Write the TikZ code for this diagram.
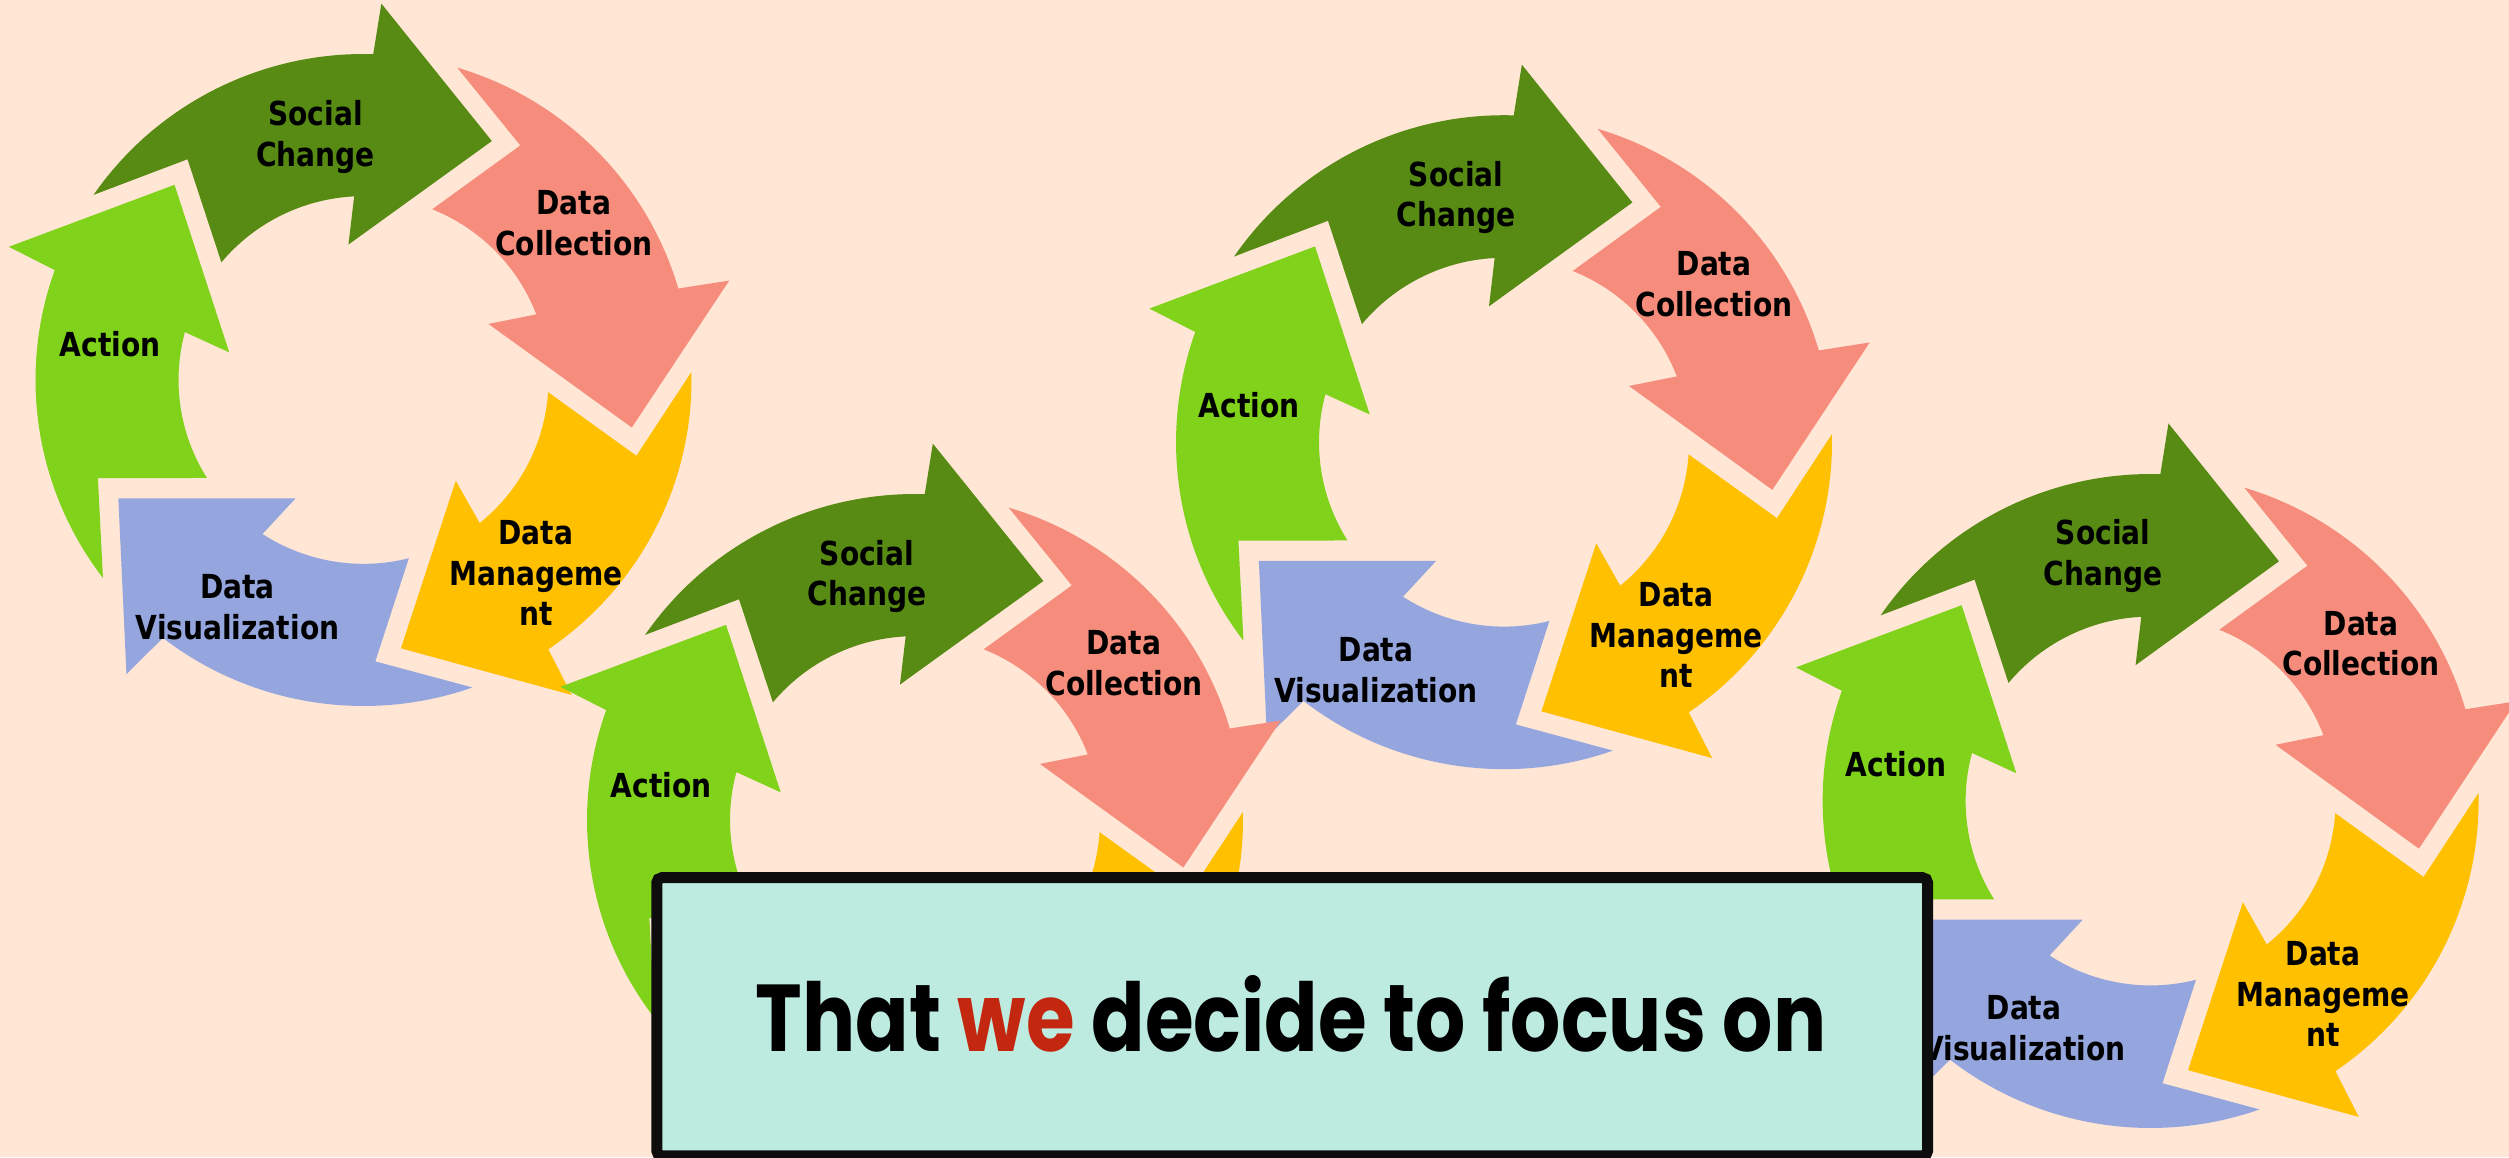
\documentclass[tikz,border=0pt]{standalone}
\usepackage{fontspec}
\usepackage{graphicx}
\newfontfamily\lblfont{DejaVu Sans}[FakeStretch=0.85]
\newfontfamily\bannerfont{Poppins}
\definecolor{bgpeach}{HTML}{FFE6D5}
\definecolor{scgreen}{HTML}{578B13}
\definecolor{dcsalmon}{HTML}{F68D7C}
\definecolor{dmyellow}{HTML}{FFC000}
\definecolor{dvblue}{HTML}{95A6DF}
\definecolor{acgreen}{HTML}{80D31A}
\definecolor{boxfill}{HTML}{BDEBE0}
\definecolor{boxline}{HTML}{0D0D0D}
\definecolor{wered}{HTML}{C3270F}
\tikzset{
  lbl/.style={font=\lblfont\bfseries\fontsize{9.4}{11.5}\selectfont, align=center, inner sep=0pt, text=black},
  bannerbox/.style={draw=boxline, fill=boxfill, line width=0.11cm, rounded corners=0.05cm,
    minimum width=12.7cm, minimum height=2.78cm, inner sep=0pt},
}
% one curved block arrow of a ring: #1 = angle of its tip, #2 = colour
\newcommand\ringarrow[2]{%
  \fill[#2] ({#1+83.5}:1) arc[start angle={#1+83.5}, end angle={#1+26.4}, radius=1]
    -- ({#1+25.4}:1.156) -- ({#1}:0.831) -- ({#1+34.4}:0.418) -- ({#1+31}:0.564)
    arc[start angle={#1+31}, end angle={#1+78.3}, radius=0.564]
    -- ({#1+66.5}:0.864) -- cycle;}
\newcommand\fullcycle{%
  \ringarrow{61.9}{scgreen}
  \ringarrow{-10.1}{dcsalmon}
  \ringarrow{-82.1}{dmyellow}
  \ringarrow{-154.1}{dvblue}
  \ringarrow{133.9}{acgreen}}
\begin{document}
\begin{tikzpicture}[x=0.01cm, y=0.01cm]
\fill[bgpeach] (0,0) rectangle (2509,1157);
\useasboundingbox (0,0) rectangle (2509,1157);
\clip (0,0) rectangle (2509,1157);
% rings
\begin{scope}[shift={(363.5,777)}, xscale=328, yscale=326] \fullcycle \end{scope}
\begin{scope}[shift={(1504,714.8)}, xscale=328, yscale=327] \fullcycle \end{scope}
\begin{scope}[shift={(915,337)}, xscale=328, yscale=326] \fullcycle \end{scope}
\begin{scope}[shift={(2150.6,356)}, xscale=328, yscale=327] \fullcycle \end{scope}
% labels, ring 1
\node[lbl] (sc1) at (315.5,1020) {Social\\Change};
\node[lbl] (dc1) at (574,934) {Data\\Collection};
\node[lbl] (dm1) at (536,584) {Data\\Manageme\\nt};
\node[lbl] (dv1) at (237.5,550) {Data\\Visualization};
\node[lbl] (ac1) at (110,813) {Action};
% labels, ring 2
\node[lbl] (sc2) at (867,580.5) {Social\\Change};
\node[lbl] (dc2) at (1124,493.6) {Data\\Collection};
\node[lbl] (ac2) at (661,372) {Action};
% labels, ring 3
\node[lbl] (sc3) at (1456,959.3) {Social\\Change};
\node[lbl] (dc3) at (1714,872.8) {Data\\Collection};
\node[lbl] (dm3) at (1676,522) {Data\\Manageme\\nt};
\node[lbl] (dv3) at (1376,487) {Data\\Visualization};
\node[lbl] (ac3) at (1249,751.4) {Action};
% labels, ring 4
\node[lbl] (sc4) at (2103,601.1) {Social\\Change};
\node[lbl] (dc4) at (2361,513.4) {Data\\Collection};
\node[lbl] (dm4) at (2323,163) {Data\\Manageme\\nt};
\node[lbl] (dv4) at (2024,128.6) {Data\\Visualization};
\node[lbl] (ac4) at (1896,392.5) {Action};
% banner
\node[bannerbox] (banner) at (1292.2,140.2) {};
\node[anchor=base, inner sep=0pt] (slogan) at (1291,106)
  {\resizebox{10.7cm}{0.76cm}{\bannerfont\bfseries That \textcolor{wered}{we} decide to focus on}};
\end{tikzpicture}
\end{document}
